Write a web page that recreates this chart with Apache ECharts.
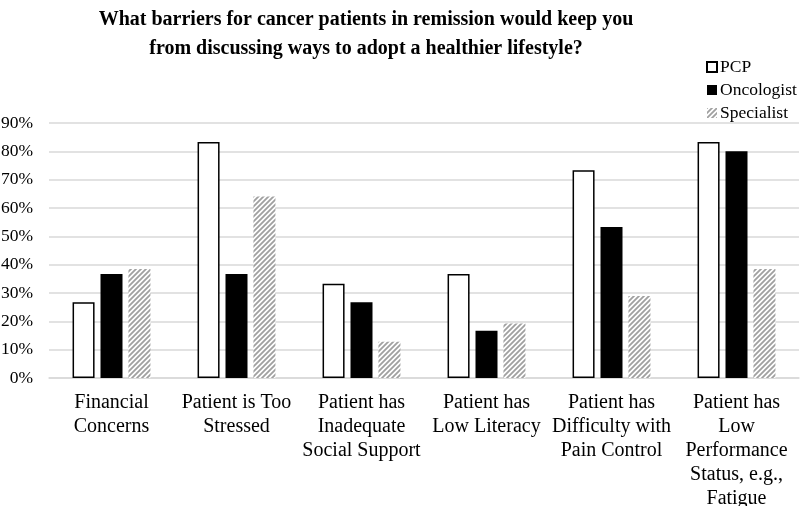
<!DOCTYPE html>
<html>
<head>
<meta charset="utf-8">
<script src="https://cdn.jsdelivr.net/npm/echarts@6/dist/echarts.min.js"></script>
<style>html,body{margin:0;padding:0;background:#fff}#c{width:800px;height:506px}</style>
</head>
<body>
<div id="c"></div>
<script>
var titleText = 'What barriers for cancer patients in remission would keep you\nfrom discussing ways to adopt a healthier lifestyle?';
var categories = [
  'Financial\nConcerns',
  'Patient is Too\nStressed',
  'Patient has\nInadequate\nSocial Support',
  'Patient has\nLow Literacy',
  'Patient has\nDifficulty with\nPain Control',
  'Patient has\nLow\nPerformance\nStatus, e.g.,\nFatigue'
];
var seriesNames = ['PCP', 'Oncologist', 'Specialist'];
var pcp = [26.7, 83.3, 33.3, 36.7, 73.3, 83.3];
var oncologist = [36.7, 36.7, 26.7, 16.7, 53.3, 80.0];
var specialist = [38.5, 64.1, 12.8, 19.2, 28.9, 38.5];
var yTicks = [0, 10, 20, 30, 40, 50, 60, 70, 80, 90];

function makeHatch() {
  var s = 5;
  var c = document.createElement('canvas');
  c.width = s; c.height = s;
  var ctx = c.getContext('2d');
  ctx.fillStyle = '#ffffff';
  ctx.fillRect(0, 0, s, s);
  ctx.strokeStyle = '#a0a0a0';
  ctx.lineWidth = 1.8;
  ctx.beginPath();
  ctx.moveTo(-1, s + 1); ctx.lineTo(s + 1, -1);
  ctx.moveTo(-1, 1); ctx.lineTo(1, -1);
  ctx.moveTo(s - 1, s + 1); ctx.lineTo(s + 1, s - 1);
  ctx.stroke();
  return c;
}
var hatch = makeHatch();

var serif = 'Liberation Serif, Times New Roman, serif';
var chart = echarts.init(document.getElementById('c'), null, {renderer: 'canvas'});
chart.setOption({
  animation: false,
  backgroundColor: '#ffffff',
  title: {
    text: titleText,
    left: 361,
    textAlign: 'center',
    top: 0,
    textStyle: {fontFamily: serif, fontWeight: 'bold', fontSize: 20, lineHeight: 29, color: '#000'}
  },
  legend: {
    orient: 'vertical',
    left: 701,
    top: 53,
    itemWidth: 10,
    itemHeight: 10,
    itemGap: 5,
    icon: 'rect',
    textStyle: {fontFamily: serif, fontSize: 17.5, color: '#000', padding: [0, 0, 0, -2]},
    data: seriesNames
  },
  grid: {left: 49, right: 1, top: 123, bottom: 128, containLabel: false, outerBoundsMode: 'none'},
  xAxis: {
    type: 'category',
    data: categories,
    axisLine: {lineStyle: {color: '#d9d9d9', width: 1.5}},
    axisTick: {show: false},
    axisLabel: {fontFamily: serif, fontSize: 20, color: '#000', lineHeight: 24, margin: 13, interval: 0}
  },
  yAxis: {
    type: 'value',
    min: 0, max: 90, interval: 10,
    axisLine: {show: false},
    axisTick: {show: false},
    splitLine: {lineStyle: {color: '#d9d9d9', width: 1.5}},
    axisLabel: {fontFamily: serif, fontSize: 17.5, color: '#000', margin: 16,
      formatter: function (v) { return yTicks.indexOf(v) >= 0 ? v + '%' : ''; }}
  },
  series: [
    {name: seriesNames[0], type: 'bar', data: pcp, barWidth: 22, barGap: '27%',
     itemStyle: {color: '#ffffff', borderColor: '#000', borderWidth: 1.5}},
    {name: seriesNames[1], type: 'bar', data: oncologist, barWidth: 22, barGap: '27%',
     itemStyle: {color: '#000000'}},
    {name: seriesNames[2], type: 'bar', data: specialist, barWidth: 22, barGap: '27%',
     itemStyle: {color: {image: hatch, repeat: 'repeat'}}}
  ]
});
</script>
</body>
</html>
